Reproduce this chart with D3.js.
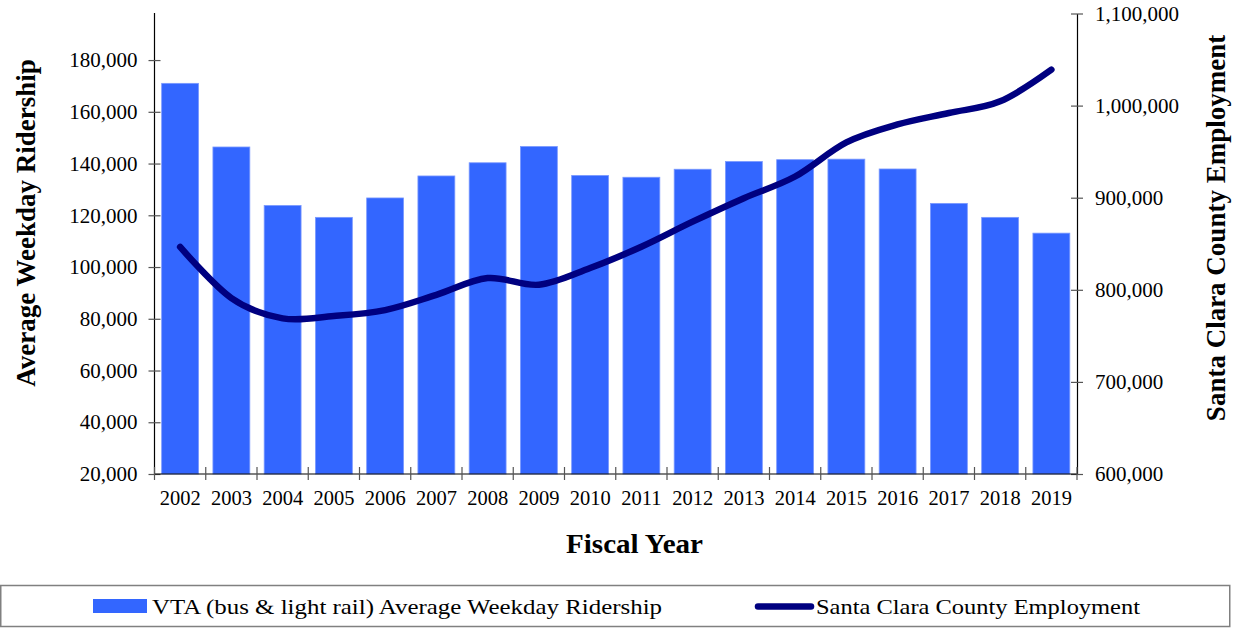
<!DOCTYPE html>
<html>
<head>
<meta charset="utf-8">
<script src="https://cdn.jsdelivr.net/npm/d3@7"></script>
<style>
  html, body { margin: 0; padding: 0; background: #fff; }
  svg { display: block; font-family: "Liberation Serif", "Times New Roman", serif; }
</style>
</head>
<body>
<svg id="chart" width="1239" height="628"></svg>
<script>
// Fiscal years and the two series plotted against them
const years = ["2002","2003","2004","2005","2006","2007","2008","2009","2010",
               "2011","2012","2013","2014","2015","2016","2017","2018","2019"];
const ridership = [171000, 146400, 123800, 119200, 126700, 135200, 140300, 146600, 135400,
                   134700, 137800, 140800, 141500, 141700, 137900, 124600, 119200, 113100];
const employment = [846500, 791000, 769000, 771500, 778000, 794500, 812700, 805500, 823600,
                    846800, 874000, 899500, 923000, 960000, 979500, 992000, 1004600, 1039000];
const leftTicks = [20000, 40000, 60000, 80000, 100000, 120000, 140000, 160000, 180000];
const rightTicks = [600000, 700000, 800000, 900000, 1000000, 1100000];

const svg = d3.select("#chart");
const plot = { left: 154.5, right: 1077, top: 13.5, bottom: 474 };
const fmt = d3.format(",");

const x = d3.scaleBand().domain(years).range([plot.left, plot.right]).paddingInner(0.28).paddingOuter(0.14);
const yL = d3.scaleLinear().domain([20000, 198000]).range([plot.bottom, plot.top]);
const yR = d3.scaleLinear().domain([600000, 1100000]).range([plot.bottom, plot.top]);

// Bars
svg.append("g").selectAll("rect").data(years).join("rect")
  .attr("x", (d) => x(d))
  .attr("width", x.bandwidth())
  .attr("y", (d, i) => yL(ridership[i]))
  .attr("height", (d, i) => plot.bottom - yL(ridership[i]))
  .attr("fill", "#3366ff")
  .attr("stroke", "#7a99ff")
  .attr("stroke-width", 0.8);

// Left axis
const axL = svg.append("g").attr("transform", `translate(${plot.left},0)`)
  .call(d3.axisLeft(yL).tickValues(leftTicks).tickFormat(fmt).tickSizeInner(6).tickSizeOuter(0).tickPadding(11));
axL.select(".domain").attr("stroke", "#000").attr("stroke-width", 1.2)
  .attr("d", `M0,${plot.top - 0.5}V${plot.bottom}`);
axL.selectAll(".tick line").attr("x1", 6).attr("stroke", "#555").attr("stroke-width", 1.2);
axL.selectAll(".tick text").attr("font-size", 21).attr("fill", "#000").attr("font-family", "Liberation Serif");

// Right axis
const axR = svg.append("g").attr("transform", `translate(${plot.right},0)`)
  .call(d3.axisRight(yR).tickValues(rightTicks).tickFormat(fmt).tickSizeInner(6).tickSizeOuter(0).tickPadding(12));
axR.select(".domain").attr("stroke", "#000").attr("stroke-width", 1.2);
axR.selectAll(".tick line").attr("x1", -6).attr("stroke", "#555").attr("stroke-width", 1.2);
axR.selectAll(".tick text").attr("font-size", 21).attr("fill", "#000").attr("font-family", "Liberation Serif");

// Bottom axis: ticks at category boundaries, labels at category centres
const axB = svg.append("g");
axB.append("line").attr("x1", plot.left).attr("x2", plot.right)
  .attr("y1", plot.bottom).attr("y2", plot.bottom).attr("stroke", "#000").attr("stroke-width", 1.2);
const step = x.step();
const bounds = d3.range(years.length + 1).map((i) => x(years[0]) - step * x.paddingOuter() + i * step);
axB.selectAll("line.tk").data(bounds).join("line").attr("class", "tk")
  .attr("x1", (d) => d).attr("x2", (d) => d)
  .attr("y1", plot.bottom - 7).attr("y2", plot.bottom + 6)
  .attr("stroke", "#555").attr("stroke-width", 1.2);
axB.selectAll("text").data(years).join("text")
  .attr("x", (d) => x(d) + x.bandwidth() / 2).attr("y", 505)
  .attr("text-anchor", "middle").attr("font-size", 20.5).text((d) => d);

// Employment line
const line = d3.line()
  .x((d, i) => x(years[i]) + x.bandwidth() / 2)
  .y((d) => yR(d))
  .curve(d3.curveCardinal.tension(0));
svg.append("path").datum(employment).attr("d", line)
  .attr("fill", "none").attr("stroke", "#000080").attr("stroke-width", 6.5)
  .attr("stroke-linecap", "round").attr("stroke-linejoin", "round");

// Axis titles
svg.append("text").attr("transform", "translate(35,223) rotate(-90)")
  .attr("text-anchor", "middle").attr("font-size", 27).attr("font-weight", "bold")
  .text("Average Weekday Ridership");
svg.append("text").attr("transform", "translate(1225,228) rotate(-90)")
  .attr("text-anchor", "middle").attr("font-size", 27).attr("font-weight", "bold")
  .text("Santa Clara County Employment");
svg.append("text").attr("x", 566).attr("y", 553)
  .attr("font-size", 27).attr("font-weight", "bold")
  .attr("textLength", 137).attr("lengthAdjust", "spacingAndGlyphs")
  .text("Fiscal Year");

// Legend
const lg = svg.append("g");
lg.append("rect").attr("x", 0.75).attr("y", 585.5).attr("width", 1229).attr("height", 41)
  .attr("fill", "#fff").attr("stroke", "#808080").attr("stroke-width", 1.5);
lg.append("rect").attr("x", 93).attr("y", 599).attr("width", 54).attr("height", 14).attr("fill", "#3366ff");
lg.append("text").attr("x", 152).attr("y", 613.5).attr("font-size", 21)
  .attr("textLength", 510).attr("lengthAdjust", "spacingAndGlyphs")
  .text("VTA (bus & light rail) Average Weekday Ridership");
lg.append("line").attr("x1", 758).attr("x2", 811).attr("y1", 606.5).attr("y2", 606.5)
  .attr("stroke", "#000080").attr("stroke-width", 6.5).attr("stroke-linecap", "round");
lg.append("text").attr("x", 816).attr("y", 613.5).attr("font-size", 21)
  .attr("textLength", 324).attr("lengthAdjust", "spacingAndGlyphs")
  .text("Santa Clara County Employment");
</script>
</body>
</html>
